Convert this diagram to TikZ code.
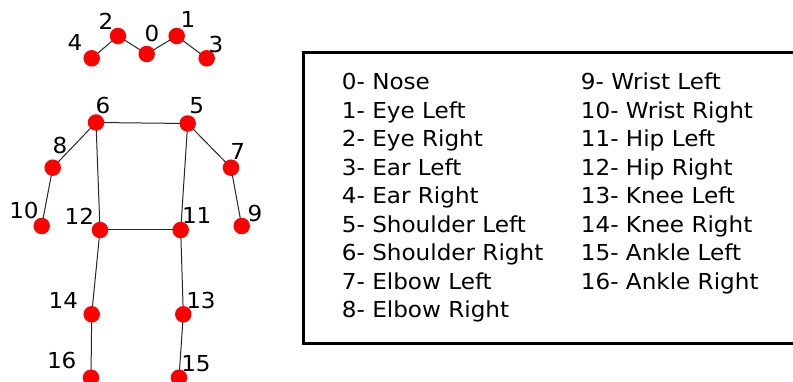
\documentclass[tikz,border=0pt]{standalone}
\usepackage{fontspec}
\setmainfont{DejaVu Sans}[FakeStretch=1.05]
\begin{document}
\begin{tikzpicture}[x=1pt,y=-1pt,
  joint/.style={circle,fill=red,minimum size=16.5pt,inner sep=0pt},
  bone/.style={draw=black!85,line width=1pt},
  lbl/.style={font=\fontsize{22}{26}\selectfont,inner sep=0pt},
  leg/.style={font=\fontsize{22}{26}\selectfont,inner sep=0pt,anchor=base west},
  legbox/.style={draw=black,line width=3pt}]
\useasboundingbox (0,0) rectangle (793,382);
% joints
\coordinate (c0) at (146.7,54);
\coordinate (c1) at (176.7,36);
\coordinate (c2) at (118,36);
\coordinate (c3) at (206.7,58.3);
\coordinate (c4) at (91.7,58.3);
\coordinate (c5) at (187.7,123.5);
\coordinate (c6) at (96,122.5);
\coordinate (c7) at (231,167.7);
\coordinate (c8) at (52.7,167.7);
\coordinate (c9) at (241.7,226);
\coordinate (c10) at (41.7,226);
\coordinate (c11) at (180.7,230);
\coordinate (c12) at (100,230);
\coordinate (c13) at (183.3,314.3);
\coordinate (c14) at (91.7,314.3);
\coordinate (c15) at (179,377.7);
\coordinate (c16) at (91,377.7);
% bones
\foreach \a/\b in {4/2,2/0,0/1,1/3,6/5,6/8,8/10,5/7,7/9,6/12,5/11,12/11,12/14,14/16,11/13,13/15}
  \draw[bone] (c\a) -- (c\b);
\foreach \i in {0,...,16}
  \node[joint] (j\i) at (c\i) {};
% joint labels
\node[lbl] (l0) at (152,33) {0};
\node[lbl] (l1) at (188,19) {1};
\node[lbl] (l2) at (106,21.7) {2};
\node[lbl] (l3) at (216,44) {3};
\node[lbl] (l4) at (75,42.7) {4};
\node[lbl] (l5) at (196.7,106) {5};
\node[lbl] (l6) at (103,105) {6};
\node[lbl] (l7) at (237.7,151.7) {7};
\node[lbl] (l8) at (60,145) {8};
\node[lbl] (l9) at (255,213) {9};
\node[lbl] (l10) at (24,210) {10};
\node[lbl] (l11) at (196.7,215) {11};
\node[lbl] (l12) at (79.3,216.7) {12};
\node[lbl] (l13) at (201,300) {13};
\node[lbl] (l14) at (63.3,300) {14};
\node[lbl] (l15) at (196,363.3) {15};
\node[lbl] (l16) at (61.7,360) {16};
% legend box
\draw[legbox] (303,52.7) rectangle (800,343.3);
\foreach \t [count=\k from 0] in {0- Nose,1- Eye Left,2- Eye Right,3- Ear Left,4- Ear Right,5- Shoulder Left,6- Shoulder Right,7- Elbow Left,8- Elbow Right}
  \node[leg] (a\k) at (341.7,{90+28.5*\k}) {\t};
\foreach \t [count=\k from 0] in {9- Wrist Left,10- Wrist Right,11- Hip Left,12- Hip Right,13- Knee Left,14- Knee Right,15- Ankle Left,16- Ankle Right}
  \node[leg] (b\k) at (580.7,{90+28.5*\k}) {\t};
\end{tikzpicture}
\end{document}
